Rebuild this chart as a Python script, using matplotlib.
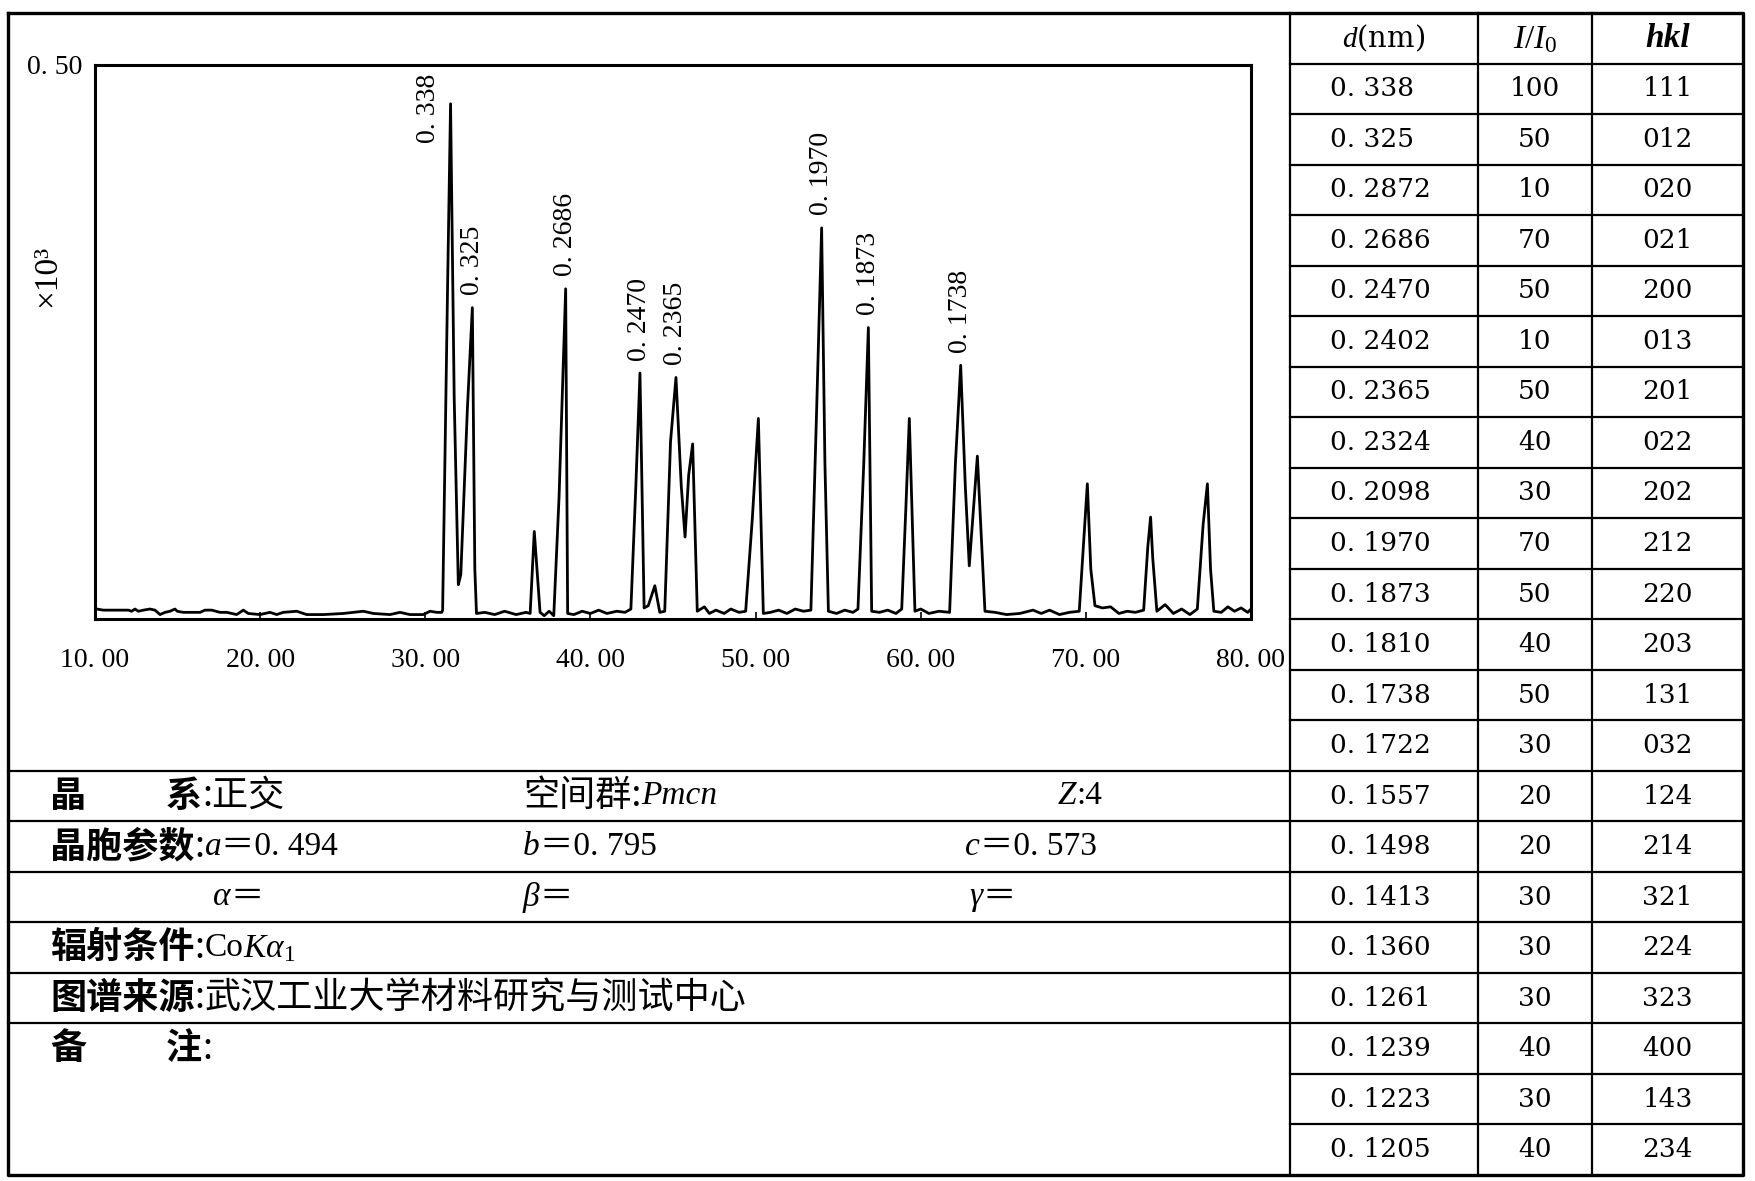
import numpy as np
import matplotlib
matplotlib.use("Agg")
import matplotlib.pyplot as plt

plt.rcParams['mathtext.fontset'] = 'custom'
plt.rcParams['mathtext.rm'] = 'Liberation Serif'
plt.rcParams['mathtext.it'] = 'Liberation Serif:italic'

# 衍射谱 (2θ, 强度 ×10^3), 读自原图折线顶点
two_theta = [10.10, 10.50, 11.72, 12.02, 12.22, 12.42, 12.62, 12.93, 13.33, 13.63,
             13.94, 14.24, 14.54, 14.84, 14.98, 15.35, 16.36, 16.66, 17.07, 17.57,
             17.98, 18.58, 18.98, 19.28, 19.99, 20.60, 21.00, 21.40, 22.21, 22.82,
             23.83, 25.04, 26.25, 26.85, 27.86, 28.47, 29.07, 29.88, 30.29, 30.70,
             31.00, 31.05, 31.35, 31.53, 31.75, 32.00, 32.15, 32.55, 32.85, 33.00,
             33.10, 33.6, 34.2, 34.8, 35.5, 36.1, 36.35, 36.6, 36.95, 37.2,
             37.5, 37.78, 38.1, 38.50, 38.62, 39.0, 39.5, 40.0, 40.5, 41.0,
             41.6, 42.1, 42.45, 42.75, 43.0, 43.25, 43.5, 43.9, 44.2, 44.5,
             44.85, 45.18, 45.5, 45.73, 45.95, 46.19, 46.47, 46.9, 47.2, 47.6,
             48.1, 48.5, 49.0, 49.4, 49.8, 50.17, 50.47, 50.9, 51.4, 51.9,
             52.4, 52.9, 53.35, 53.7, 54.0, 54.2, 54.41, 54.9, 55.4, 55.9,
             56.2, 56.55, 56.83, 57.03, 57.5, 58.0, 58.5, 58.85, 59.1, 59.31,
             59.65, 60.0, 60.5, 61.1, 61.75, 62.1, 62.42, 62.7, 62.94, 63.2,
             63.43, 63.89, 64.5, 65.2, 66.0, 66.8, 67.3, 67.8, 68.4, 69.0,
             69.6, 69.85, 70.09, 70.3, 70.55, 71.0, 71.5, 72.0, 72.5, 73.0,
             73.5, 73.75, 73.92, 74.05, 74.3, 74.8, 75.3, 75.8, 76.3, 76.75,
             77.1, 77.36, 77.55, 77.75, 78.2, 78.6, 79.0, 79.4, 79.8, 80.0]
intensity = [0.009, 0.008, 0.008, 0.008, 0.007, 0.009, 0.007, 0.008, 0.009, 0.008,
             0.004, 0.006, 0.007, 0.009, 0.007, 0.006, 0.006, 0.008, 0.008, 0.006,
             0.006, 0.004, 0.008, 0.005, 0.004, 0.006, 0.004, 0.006, 0.007, 0.004,
             0.004, 0.005, 0.007, 0.005, 0.004, 0.006, 0.004, 0.004, 0.007, 0.006,
             0.006, 0.008, 0.300, 0.465, 0.200, 0.031, 0.040, 0.190, 0.281, 0.045,
             0.005, 0.006, 0.004, 0.007, 0.004, 0.006, 0.005, 0.079, 0.006, 0.003,
             0.007, 0.003, 0.110, 0.298, 0.005, 0.004, 0.007, 0.005, 0.008, 0.005,
             0.007, 0.006, 0.009, 0.120, 0.222, 0.010, 0.012, 0.030, 0.006, 0.007,
             0.160, 0.218, 0.120, 0.074, 0.130, 0.158, 0.007, 0.011, 0.005, 0.008,
             0.005, 0.009, 0.006, 0.007, 0.090, 0.181, 0.005, 0.006, 0.008, 0.005,
             0.009, 0.007, 0.008, 0.190, 0.353, 0.140, 0.007, 0.005, 0.008, 0.006,
             0.009, 0.140, 0.263, 0.007, 0.006, 0.008, 0.005, 0.009, 0.100, 0.181,
             0.007, 0.009, 0.005, 0.007, 0.006, 0.140, 0.229, 0.120, 0.048, 0.100,
             0.147, 0.007, 0.006, 0.004, 0.005, 0.008, 0.005, 0.008, 0.004, 0.006,
             0.007, 0.065, 0.122, 0.045, 0.012, 0.010, 0.011, 0.005, 0.007, 0.006,
             0.008, 0.065, 0.092, 0.055, 0.007, 0.013, 0.005, 0.009, 0.004, 0.009,
             0.085, 0.122, 0.045, 0.007, 0.006, 0.011, 0.007, 0.010, 0.006, 0.009]

# 标注的衍射峰
peak_labels = ["0. 338", "0. 325", "0. 2686", "0. 2470", "0. 2365", "0. 1970", "0. 1873", "0. 1738"]
peak_pos = [31.53, 32.85, 38.50, 43.0, 45.18, 54.0, 56.83, 62.42]

x_ticks = [10, 20, 30, 40, 50, 60, 70, 80]
x_tick_labels = ["10. 00", "20. 00", "30. 00", "40. 00", "50. 00", "60. 00", "70. 00", "80. 00"]

# 右侧数据表
d_values = ["0. 338", "0. 325", "0. 2872", "0. 2686", "0. 2470", "0. 2402", "0. 2365", "0. 2324",
            "0. 2098", "0. 1970", "0. 1873", "0. 1810", "0. 1738", "0. 1722", "0. 1557", "0. 1498",
            "0. 1413", "0. 1360", "0. 1261", "0. 1239", "0. 1223", "0. 1205"]
rel_int = ["100", "50", "10", "70", "50", "10", "50", "40", "30", "70", "50",
           "40", "50", "30", "20", "20", "30", "30", "30", "40", "30", "40"]
hkl = ["111", "012", "020", "021", "200", "013", "201", "022", "202", "212", "220",
       "203", "131", "032", "124", "214", "321", "224", "323", "400", "143", "234"]

W, H = 1755, 1181
fig = plt.figure(figsize=(W / 100, H / 100), dpi=100)

# 背景层: 外框、表格、文字 (像素坐标)
bg = fig.add_axes([0, 0, 1, 1])
bg.set_xlim(0, W)
bg.set_ylim(H, 0)
bg.axis('off')

left, right, top, bottom = 8, 1743, 13, 1175
tab_x = [1290, 1478, 1592, right]
row_h = (bottom - top) / 23
lw = 1.6

bg.plot([left, right, right, left, left], [top, top, bottom, bottom, top], color='black', lw=2.4)
for x in tab_x[:-1]:
    bg.plot([x, x], [top, bottom], color='black', lw=lw)
for i in range(1, 23):
    y = top + i * row_h
    bg.plot([tab_x[0], right], [y, y], color='black', lw=lw)
    if 15 <= i <= 20:
        bg.plot([left, tab_x[0]], [y, y], color='black', lw=lw)

SERIF_TAB = dict(family=['DejaVu Serif'], fontsize=19)
bg.text((tab_x[0] + tab_x[1]) / 2, top + row_h / 2, r"$d$(nm)", ha='center', va='center',
        family=['DejaVu Serif'], fontsize=21)
bg.text((tab_x[1] + tab_x[2]) / 2, top + row_h / 2, r"$I/I_0$", ha='center', va='center', fontsize=24)
bg.text((tab_x[2] + tab_x[3]) / 2, top + row_h / 2, "hkl", ha='center', va='center',
        family=['Liberation Serif'], fontsize=24, fontstyle='italic', fontweight='bold')
for i in range(len(d_values)):
    y = top + (i + 1.5) * row_h
    bg.text(1330, y, d_values[i], ha='left', va='center', **SERIF_TAB)
    bg.text((tab_x[1] + tab_x[2]) / 2, y, rel_int[i], ha='center', va='center', **SERIF_TAB)
    bg.text((tab_x[2] + tab_x[3]) / 2, y, hkl[i], ha='center', va='center', **SERIF_TAB)

CJ_B = dict(family=['Noto Sans CJK SC'], fontsize=26, fontweight='bold')
CJ = dict(family=['Noto Sans CJK SC'], fontsize=26)
SER = dict(family=['Liberation Serif', 'Noto Sans CJK SC'], fontsize=24)
SER_I = dict(family=['Liberation Serif', 'Noto Sans CJK SC'], fontsize=24, fontstyle='italic')


def chain(x, y, parts):
    t = None
    for s, kw in parts:
        if t is None:
            t = bg.text(x, y, s, ha='left', va='center', **kw)
        else:
            t = bg.annotate(s, xy=(1, 0.5), xycoords=t, ha='left', va='center', **kw)
    return t


def row_y(i):
    return top + (15 + i + 0.5) * row_h


chain(50, row_y(0), [("晶", CJ_B)])
chain(166, row_y(0), [("系", CJ_B), (":正交", CJ)])
chain(523, row_y(0), [("空间群:", CJ), ("Pmcn", SER_I)])
chain(1058, row_y(0), [("Z", SER_I), (":4", SER)])

chain(50, row_y(1), [("晶胞参数", CJ_B), (":", CJ), ("a", SER_I), ("＝0. 494", SER)])
chain(523, row_y(1), [("b", SER_I), ("＝0. 795", SER)])
chain(965, row_y(1), [("c", SER_I), ("＝0. 573", SER)])

chain(213, row_y(2), [("α", SER_I), ("＝", SER)])
chain(523, row_y(2), [("β", SER_I), ("＝", SER)])
chain(969, row_y(2), [("γ", SER_I), ("＝", SER)])

chain(50, row_y(3), [("辐射条件", CJ_B), (":", CJ), ("Co", SER), (r"$K\alpha_1$", dict(fontsize=24))])
chain(50, row_y(4), [("图谱来源", CJ_B), (":", CJ), ("武汉工业大学材料研究与测试中心", CJ)])
chain(50, 1049, [("备", CJ_B)])
chain(166, 1049, [("注", CJ_B), (":", CJ)])

# 衍射图
ax = fig.add_axes([95 / W, 1 - 619 / H, 1156 / W, 554 / H])
ax.plot(two_theta, intensity, color='black', lw=2.0)
ax.set_xlim(10, 80)
ax.set_ylim(0, 0.5)
for s in ax.spines.values():
    s.set_linewidth(2.2)
ax.set_xticks(x_ticks)
ax.set_xticklabels(x_tick_labels, family='Liberation Serif', fontsize=20)
ax.tick_params(axis='x', direction='in', length=5, width=1.2, pad=21)
ax.set_yticks([0.5])
ax.set_yticklabels(["0. 50"], family='Liberation Serif', fontsize=20)
ax.tick_params(axis='y', length=0, pad=9)
ax.text(-0.041, 0.62, "×10³", transform=ax.transAxes, rotation=90, ha='center', va='center',
        family='Liberation Serif', fontsize=24)

for lab, px in zip(peak_labels, peak_pos):
    py = np.interp(px, two_theta, intensity)
    off = (-16, -28) if lab == "0. 338" else (0, 9)
    ax.annotate(lab, xy=(px, py), xytext=off, textcoords='offset points', rotation=90,
                ha='center', va='bottom', family='Liberation Serif', fontsize=20)

fig.savefig("out.png", dpi=100)
